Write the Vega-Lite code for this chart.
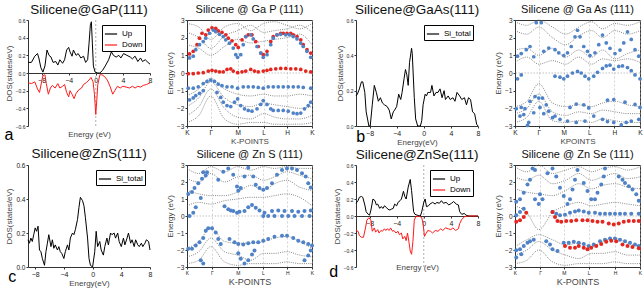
{
"$schema":"https://vega.github.io/schema/vega-lite/v6.json",
"padding":{"left":4,"right":4,"top":2,"bottom":2},
"config":{"font":"Liberation Sans","view":{"stroke":null},
"axis":{"labelFontSize":6,"titleFontSize":8,"tickSize":2,"domainColor":"#333","tickColor":"#333","labelColor":"#222","titleColor":"#444","titleFontWeight":"normal","labelPadding":1,"titlePadding":2,"grid":false,"labelFlush":false,"labelOverlap":false,"tickCount":20},
"title":{"fontSize":12,"fontWeight":"normal","offset":2,"color":"#111"},
"legend":{"title":null,"orient":"top-right","strokeColor":"#000","padding":2,"labelFontSize":8,"symbolSize":150,"symbolStrokeWidth":1.2,"rowPadding":0,"offset":5,"fillColor":"#fff","labelColor":"#000"}},
"columns":4,
"spacing":{"row":0,"column":14},
"resolve":{"scale":{"color":"independent"},"legend":{"color":"independent"}},
"datasets":{
"gapdos":[
{"e":-10,"d":0.12,"s":"Up"},{"e":-9.5,"d":0.12,"s":"Up"},{"e":-9,"d":0.19,"s":"Up"},{"e":-8.6,"d":0.22,"s":"Up"},{"e":-8.4,"d":0.17,"s":"Up"},{"e":-8.1,"d":0.06,"s":"Up"},{"e":-7.8,"d":0.01,"s":"Up"},{"e":-7.5,"d":0.08,"s":"Up"},{"e":-7.2,"d":0.26,"s":"Up"},{"e":-6.9,"d":0.2,"s":"Up"},{"e":-6.6,"d":0.18,"s":"Up"},{"e":-6.3,"d":0.12,"s":"Up"},{"e":-5.9,"d":0.13,"s":"Up"},{"e":-5.6,"d":0.09,"s":"Up"},{"e":-5.3,"d":0.15,"s":"Up"},{"e":-4.9,"d":0.11,"s":"Up"},{"e":-4.6,"d":0.15,"s":"Up"},{"e":-4.3,"d":0.26,"s":"Up"},{"e":-4.0,"d":0.29,"s":"Up"},{"e":-3.8,"d":0.24,"s":"Up"},{"e":-3.5,"d":0.19,"s":"Up"},{"e":-3.3,"d":0.26,"s":"Up"},{"e":-2.9,"d":0.2,"s":"Up"},{"e":-2.6,"d":0.22,"s":"Up"},{"e":-2.2,"d":0.17,"s":"Up"},{"e":-1.8,"d":0.19,"s":"Up"},{"e":-1.5,"d":0.12,"s":"Up"},{"e":-1.2,"d":0.15,"s":"Up"},{"e":-1.0,"d":0.33,"s":"Up"},{"e":-0.8,"d":0.54,"s":"Up"},{"e":-0.65,"d":0.58,"s":"Up"},{"e":-0.5,"d":0.33,"s":"Up"},{"e":-0.35,"d":0.08,"s":"Up"},{"e":-0.1,"d":0.01,"s":"Up"},{"e":0.3,"d":0,"s":"Up"},{"e":0.6,"d":0,"s":"Up"},{"e":1.0,"d":0.03,"s":"Up"},{"e":1.4,"d":0.08,"s":"Up"},{"e":1.9,"d":0.15,"s":"Up"},{"e":2.3,"d":0.24,"s":"Up"},{"e":2.6,"d":0.2,"s":"Up"},{"e":3.0,"d":0.18,"s":"Up"},{"e":3.4,"d":0.2,"s":"Up"},{"e":3.7,"d":0.17,"s":"Up"},{"e":4.1,"d":0.22,"s":"Up"},{"e":4.6,"d":0.2,"s":"Up"},{"e":5.1,"d":0.18,"s":"Up"},{"e":5.4,"d":0.16,"s":"Up"},{"e":5.8,"d":0.19,"s":"Up"},{"e":6.2,"d":0.13,"s":"Up"},{"e":6.6,"d":0.17,"s":"Up"},{"e":6.9,"d":0.13,"s":"Up"},{"e":7.3,"d":0.15,"s":"Up"},{"e":7.7,"d":0.12,"s":"Up"},{"e":8,"d":0.1,"s":"Up"},
{"e":-10,"d":-0.11,"s":"Down"},{"e":-9.5,"d":-0.12,"s":"Down"},{"e":-9,"d":-0.1,"s":"Down"},{"e":-8.6,"d":-0.18,"s":"Down"},{"e":-8.3,"d":-0.22,"s":"Down"},{"e":-8.0,"d":-0.1,"s":"Down"},{"e":-7.8,"d":-0.03,"s":"Down"},{"e":-7.5,"d":-0.02,"s":"Down"},{"e":-7.3,"d":-0.12,"s":"Down"},{"e":-7.0,"d":-0.24,"s":"Down"},{"e":-6.7,"d":-0.17,"s":"Down"},{"e":-6.4,"d":-0.14,"s":"Down"},{"e":-6.0,"d":-0.17,"s":"Down"},{"e":-5.6,"d":-0.12,"s":"Down"},{"e":-5.3,"d":-0.17,"s":"Down"},{"e":-4.9,"d":-0.15,"s":"Down"},{"e":-4.6,"d":-0.13,"s":"Down"},{"e":-4.3,"d":-0.22,"s":"Down"},{"e":-4.0,"d":-0.27,"s":"Down"},{"e":-3.8,"d":-0.2,"s":"Down"},{"e":-3.5,"d":-0.24,"s":"Down"},{"e":-3.2,"d":-0.29,"s":"Down"},{"e":-2.9,"d":-0.23,"s":"Down"},{"e":-2.5,"d":-0.19,"s":"Down"},{"e":-2.1,"d":-0.17,"s":"Down"},{"e":-1.8,"d":-0.13,"s":"Down"},{"e":-1.4,"d":-0.11,"s":"Down"},{"e":-1.0,"d":-0.08,"s":"Down"},{"e":-0.7,"d":-0.05,"s":"Down"},{"e":-0.4,"d":-0.1,"s":"Down"},{"e":-0.2,"d":-0.24,"s":"Down"},{"e":0.0,"d":-0.47,"s":"Down"},{"e":0.15,"d":-0.31,"s":"Down"},{"e":0.3,"d":-0.13,"s":"Down"},{"e":0.6,"d":-0.02,"s":"Down"},{"e":0.9,"d":-0.02,"s":"Down"},{"e":1.3,"d":-0.04,"s":"Down"},{"e":1.7,"d":-0.08,"s":"Down"},{"e":2.1,"d":-0.15,"s":"Down"},{"e":2.5,"d":-0.24,"s":"Down"},{"e":2.8,"d":-0.2,"s":"Down"},{"e":3.2,"d":-0.15,"s":"Down"},{"e":3.6,"d":-0.17,"s":"Down"},{"e":4.0,"d":-0.15,"s":"Down"},{"e":4.5,"d":-0.16,"s":"Down"},{"e":5.0,"d":-0.17,"s":"Down"},{"e":5.4,"d":-0.15,"s":"Down"},{"e":5.8,"d":-0.17,"s":"Down"},{"e":6.2,"d":-0.15,"s":"Down"},{"e":6.6,"d":-0.16,"s":"Down"},{"e":7.0,"d":-0.14,"s":"Down"},{"e":7.5,"d":-0.13,"s":"Down"},{"e":8.0,"d":-0.11,"s":"Down"}],
"gaasdos":[
{"e":-10,"d":0.17,"s":"Si_total"},{"e":-9.8,"d":0.18,"s":"Si_total"},{"e":-9.5,"d":0.21,"s":"Si_total"},{"e":-9.2,"d":0.25,"s":"Si_total"},{"e":-9.0,"d":0.25,"s":"Si_total"},{"e":-8.7,"d":0.19,"s":"Si_total"},{"e":-8.5,"d":0.08,"s":"Si_total"},{"e":-8.1,"d":0.0,"s":"Si_total"},{"e":-7.9,"d":0.0,"s":"Si_total"},{"e":-7.6,"d":0.12,"s":"Si_total"},{"e":-7.3,"d":0.23,"s":"Si_total"},{"e":-7.0,"d":0.19,"s":"Si_total"},{"e":-6.7,"d":0.14,"s":"Si_total"},{"e":-6.4,"d":0.16,"s":"Si_total"},{"e":-6.1,"d":0.13,"s":"Si_total"},{"e":-5.8,"d":0.12,"s":"Si_total"},{"e":-5.4,"d":0.11,"s":"Si_total"},{"e":-5.1,"d":0.09,"s":"Si_total"},{"e":-4.8,"d":0.04,"s":"Si_total"},{"e":-4.5,"d":0.08,"s":"Si_total"},{"e":-4.3,"d":0.09,"s":"Si_total"},{"e":-4.0,"d":0.11,"s":"Si_total"},{"e":-3.7,"d":0.18,"s":"Si_total"},{"e":-3.4,"d":0.15,"s":"Si_total"},{"e":-3.2,"d":0.19,"s":"Si_total"},{"e":-2.9,"d":0.27,"s":"Si_total"},{"e":-2.7,"d":0.32,"s":"Si_total"},{"e":-2.5,"d":0.29,"s":"Si_total"},{"e":-2.3,"d":0.23,"s":"Si_total"},{"e":-2.1,"d":0.36,"s":"Si_total"},{"e":-1.8,"d":0.44,"s":"Si_total"},{"e":-1.7,"d":0.41,"s":"Si_total"},{"e":-1.4,"d":0.16,"s":"Si_total"},{"e":-1.2,"d":0.04,"s":"Si_total"},{"e":-0.9,"d":0.0,"s":"Si_total"},{"e":-0.5,"d":0.0,"s":"Si_total"},{"e":-0.3,"d":0.03,"s":"Si_total"},{"e":-0.1,"d":0.12,"s":"Si_total"},{"e":0.2,"d":0.18,"s":"Si_total"},{"e":0.4,"d":0.17,"s":"Si_total"},{"e":0.6,"d":0.19,"s":"Si_total"},{"e":1.0,"d":0.19,"s":"Si_total"},{"e":1.2,"d":0.23,"s":"Si_total"},{"e":1.5,"d":0.17,"s":"Si_total"},{"e":1.8,"d":0.19,"s":"Si_total"},{"e":2.1,"d":0.19,"s":"Si_total"},{"e":2.4,"d":0.21,"s":"Si_total"},{"e":2.7,"d":0.16,"s":"Si_total"},{"e":3.0,"d":0.2,"s":"Si_total"},{"e":3.2,"d":0.15,"s":"Si_total"},{"e":3.6,"d":0.17,"s":"Si_total"},{"e":3.9,"d":0.15,"s":"Si_total"},{"e":4.3,"d":0.16,"s":"Si_total"},{"e":4.6,"d":0.14,"s":"Si_total"},{"e":4.9,"d":0.19,"s":"Si_total"},{"e":5.3,"d":0.17,"s":"Si_total"},{"e":5.6,"d":0.15,"s":"Si_total"},{"e":6.0,"d":0.16,"s":"Si_total"},{"e":6.3,"d":0.12,"s":"Si_total"},{"e":6.6,"d":0.16,"s":"Si_total"},{"e":6.9,"d":0.15,"s":"Si_total"},{"e":7.2,"d":0.08,"s":"Si_total"},{"e":7.5,"d":0.07,"s":"Si_total"},{"e":7.8,"d":0.01,"s":"Si_total"},{"e":8.0,"d":0.0,"s":"Si_total"}],
"znsdos":[
{"e":-9,"d":0.16,"s":"Si_total"},{"e":-8.8,"d":0.14,"s":"Si_total"},{"e":-8.6,"d":0.17,"s":"Si_total"},{"e":-8.4,"d":0.15,"s":"Si_total"},{"e":-8.2,"d":0.19,"s":"Si_total"},{"e":-8.0,"d":0.23,"s":"Si_total"},{"e":-7.8,"d":0.21,"s":"Si_total"},{"e":-7.6,"d":0.24,"s":"Si_total"},{"e":-7.4,"d":0.1,"s":"Si_total"},{"e":-7.2,"d":0.09,"s":"Si_total"},{"e":-7.0,"d":0.05,"s":"Si_total"},{"e":-6.7,"d":0.01,"s":"Si_total"},{"e":-6.5,"d":0.09,"s":"Si_total"},{"e":-6.3,"d":0.14,"s":"Si_total"},{"e":-6.1,"d":0.19,"s":"Si_total"},{"e":-5.8,"d":0.12,"s":"Si_total"},{"e":-5.6,"d":0.16,"s":"Si_total"},{"e":-5.4,"d":0.11,"s":"Si_total"},{"e":-5.2,"d":0.13,"s":"Si_total"},{"e":-4.9,"d":0.1,"s":"Si_total"},{"e":-4.7,"d":0.12,"s":"Si_total"},{"e":-4.5,"d":0.09,"s":"Si_total"},{"e":-4.3,"d":0.08,"s":"Si_total"},{"e":-4.0,"d":0.05,"s":"Si_total"},{"e":-3.8,"d":0.09,"s":"Si_total"},{"e":-3.5,"d":0.13,"s":"Si_total"},{"e":-3.3,"d":0.1,"s":"Si_total"},{"e":-3.1,"d":0.17,"s":"Si_total"},{"e":-2.8,"d":0.2,"s":"Si_total"},{"e":-2.6,"d":0.19,"s":"Si_total"},{"e":-2.4,"d":0.22,"s":"Si_total"},{"e":-2.1,"d":0.28,"s":"Si_total"},{"e":-1.9,"d":0.35,"s":"Si_total"},{"e":-1.7,"d":0.41,"s":"Si_total"},{"e":-1.4,"d":0.39,"s":"Si_total"},{"e":-1.2,"d":0.36,"s":"Si_total"},{"e":-1.0,"d":0.29,"s":"Si_total"},{"e":-0.7,"d":0.17,"s":"Si_total"},{"e":-0.5,"d":0.05,"s":"Si_total"},{"e":-0.3,"d":0.01,"s":"Si_total"},{"e":0.0,"d":0.0,"s":"Si_total"},{"e":0.3,"d":0.09,"s":"Si_total"},{"e":0.5,"d":0.21,"s":"Si_total"},{"e":0.7,"d":0.12,"s":"Si_total"},{"e":1.0,"d":0.15,"s":"Si_total"},{"e":1.2,"d":0.1,"s":"Si_total"},{"e":1.5,"d":0.07,"s":"Si_total"},{"e":1.7,"d":0.12,"s":"Si_total"},{"e":2.0,"d":0.17,"s":"Si_total"},{"e":2.2,"d":0.13,"s":"Si_total"},{"e":2.5,"d":0.2,"s":"Si_total"},{"e":2.7,"d":0.19,"s":"Si_total"},{"e":3.0,"d":0.2,"s":"Si_total"},{"e":3.2,"d":0.17,"s":"Si_total"},{"e":3.5,"d":0.2,"s":"Si_total"},{"e":3.7,"d":0.15,"s":"Si_total"},{"e":4.0,"d":0.12,"s":"Si_total"},{"e":4.3,"d":0.17,"s":"Si_total"},{"e":4.5,"d":0.13,"s":"Si_total"},{"e":4.8,"d":0.17,"s":"Si_total"},{"e":5.0,"d":0.2,"s":"Si_total"},{"e":5.3,"d":0.14,"s":"Si_total"},{"e":5.5,"d":0.16,"s":"Si_total"},{"e":5.8,"d":0.12,"s":"Si_total"},{"e":6.0,"d":0.16,"s":"Si_total"},{"e":6.3,"d":0.13,"s":"Si_total"},{"e":6.5,"d":0.12,"s":"Si_total"},{"e":6.8,"d":0.14,"s":"Si_total"},{"e":7.0,"d":0.12,"s":"Si_total"},{"e":7.3,"d":0.14,"s":"Si_total"},{"e":7.5,"d":0.16,"s":"Si_total"},{"e":7.8,"d":0.15,"s":"Si_total"},{"e":8.0,"d":0.1,"s":"Si_total"}],
"znsedos":[
{"e":-10,"d":0.15,"s":"Up"},{"e":-9.7,"d":0.18,"s":"Up"},{"e":-9.5,"d":0.22,"s":"Up"},{"e":-9.2,"d":0.23,"s":"Up"},{"e":-9.0,"d":0.22,"s":"Up"},{"e":-8.7,"d":0.13,"s":"Up"},{"e":-8.5,"d":0.05,"s":"Up"},{"e":-8.2,"d":0.02,"s":"Up"},{"e":-8.0,"d":0.01,"s":"Up"},{"e":-7.8,"d":0.07,"s":"Up"},{"e":-7.5,"d":0.2,"s":"Up"},{"e":-7.2,"d":0.18,"s":"Up"},{"e":-7.0,"d":0.13,"s":"Up"},{"e":-6.8,"d":0.14,"s":"Up"},{"e":-6.5,"d":0.09,"s":"Up"},{"e":-6.3,"d":0.11,"s":"Up"},{"e":-6.0,"d":0.09,"s":"Up"},{"e":-5.8,"d":0.12,"s":"Up"},{"e":-5.5,"d":0.1,"s":"Up"},{"e":-5.3,"d":0.08,"s":"Up"},{"e":-5.0,"d":0.07,"s":"Up"},{"e":-4.8,"d":0.08,"s":"Up"},{"e":-4.5,"d":0.09,"s":"Up"},{"e":-4.3,"d":0.14,"s":"Up"},{"e":-4.0,"d":0.12,"s":"Up"},{"e":-3.8,"d":0.16,"s":"Up"},{"e":-3.5,"d":0.18,"s":"Up"},{"e":-3.3,"d":0.2,"s":"Up"},{"e":-3.0,"d":0.29,"s":"Up"},{"e":-2.8,"d":0.23,"s":"Up"},{"e":-2.6,"d":0.2,"s":"Up"},{"e":-2.3,"d":0.34,"s":"Up"},{"e":-2.0,"d":0.43,"s":"Up"},{"e":-1.8,"d":0.3,"s":"Up"},{"e":-1.5,"d":0.05,"s":"Up"},{"e":-1.3,"d":0.02,"s":"Up"},{"e":-1.0,"d":0.01,"s":"Up"},{"e":-0.5,"d":0.0,"s":"Up"},{"e":-0.3,"d":0.05,"s":"Up"},{"e":0.0,"d":0.16,"s":"Up"},{"e":0.2,"d":0.2,"s":"Up"},{"e":0.4,"d":0.11,"s":"Up"},{"e":0.7,"d":0.12,"s":"Up"},{"e":0.9,"d":0.14,"s":"Up"},{"e":1.3,"d":0.16,"s":"Up"},{"e":1.7,"d":0.14,"s":"Up"},{"e":1.9,"d":0.16,"s":"Up"},{"e":2.3,"d":0.15,"s":"Up"},{"e":2.6,"d":0.18,"s":"Up"},{"e":2.9,"d":0.15,"s":"Up"},{"e":3.3,"d":0.16,"s":"Up"},{"e":3.7,"d":0.13,"s":"Up"},{"e":4.1,"d":0.15,"s":"Up"},{"e":4.4,"d":0.17,"s":"Up"},{"e":4.8,"d":0.14,"s":"Up"},{"e":5.1,"d":0.13,"s":"Up"},{"e":5.3,"d":0.05,"s":"Up"},{"e":5.6,"d":0.02,"s":"Up"},{"e":6.0,"d":0.03,"s":"Up"},{"e":6.2,"d":0.01,"s":"Up"},{"e":6.7,"d":0.0,"s":"Up"},{"e":8.0,"d":0.0,"s":"Up"},
{"e":-10,"d":-0.17,"s":"Down"},{"e":-9.7,"d":-0.18,"s":"Down"},{"e":-9.5,"d":-0.23,"s":"Down"},{"e":-9.2,"d":-0.25,"s":"Down"},{"e":-8.9,"d":-0.25,"s":"Down"},{"e":-8.6,"d":-0.14,"s":"Down"},{"e":-8.4,"d":-0.05,"s":"Down"},{"e":-8.1,"d":-0.02,"s":"Down"},{"e":-7.8,"d":-0.05,"s":"Down"},{"e":-7.6,"d":-0.18,"s":"Down"},{"e":-7.3,"d":-0.14,"s":"Down"},{"e":-7.1,"d":-0.19,"s":"Down"},{"e":-6.8,"d":-0.16,"s":"Down"},{"e":-6.6,"d":-0.2,"s":"Down"},{"e":-6.3,"d":-0.17,"s":"Down"},{"e":-6.1,"d":-0.18,"s":"Down"},{"e":-5.8,"d":-0.15,"s":"Down"},{"e":-5.6,"d":-0.17,"s":"Down"},{"e":-5.4,"d":-0.15,"s":"Down"},{"e":-5.1,"d":-0.17,"s":"Down"},{"e":-4.9,"d":-0.14,"s":"Down"},{"e":-4.6,"d":-0.18,"s":"Down"},{"e":-4.4,"d":-0.17,"s":"Down"},{"e":-4.1,"d":-0.2,"s":"Down"},{"e":-3.8,"d":-0.18,"s":"Down"},{"e":-3.6,"d":-0.22,"s":"Down"},{"e":-3.3,"d":-0.2,"s":"Down"},{"e":-3.1,"d":-0.27,"s":"Down"},{"e":-2.8,"d":-0.24,"s":"Down"},{"e":-2.6,"d":-0.29,"s":"Down"},{"e":-2.4,"d":-0.2,"s":"Down"},{"e":-2.2,"d":-0.3,"s":"Down"},{"e":-2.0,"d":-0.41,"s":"Down"},{"e":-1.8,"d":-0.45,"s":"Down"},{"e":-1.6,"d":-0.3,"s":"Down"},{"e":-1.4,"d":-0.05,"s":"Down"},{"e":-1.2,"d":-0.01,"s":"Down"},{"e":-0.7,"d":0.0,"s":"Down"},{"e":-0.3,"d":-0.02,"s":"Down"},{"e":-0.1,"d":-0.09,"s":"Down"},{"e":0.1,"d":-0.24,"s":"Down"},{"e":0.3,"d":-0.21,"s":"Down"},{"e":0.6,"d":-0.17,"s":"Down"},{"e":1.0,"d":-0.18,"s":"Down"},{"e":1.3,"d":-0.2,"s":"Down"},{"e":1.7,"d":-0.17,"s":"Down"},{"e":2.1,"d":-0.18,"s":"Down"},{"e":2.5,"d":-0.15,"s":"Down"},{"e":2.8,"d":-0.17,"s":"Down"},{"e":3.2,"d":-0.14,"s":"Down"},{"e":3.6,"d":-0.15,"s":"Down"},{"e":4.0,"d":-0.16,"s":"Down"},{"e":4.3,"d":-0.14,"s":"Down"},{"e":4.7,"d":-0.17,"s":"Down"},{"e":5.1,"d":-0.15,"s":"Down"},{"e":5.3,"d":-0.09,"s":"Down"},{"e":5.6,"d":-0.04,"s":"Down"},{"e":6.0,"d":-0.01,"s":"Down"},{"e":6.5,"d":0.0,"s":"Down"},{"e":8.0,"d":0.0,"s":"Down"}],
"gapG":[
{"b":1,"k":0,"e":2.8},{"b":1,"k":0.095,"e":2.6},{"b":1,"k":0.19,"e":1.9},{"b":1,"k":0.3,"e":2.6},{"b":1,"k":0.405,"e":2.8},{"b":1,"k":0.51,"e":2.4},{"b":1,"k":0.613,"e":2.8},{"b":1,"k":0.7,"e":2.9},{"b":1,"k":0.8,"e":2.7},{"b":1,"k":0.9,"e":2.5},{"b":1,"k":1,"e":2.8},
{"b":2,"k":0,"e":2.3},{"b":2,"k":0.095,"e":2.0},{"b":2,"k":0.19,"e":1.4},{"b":2,"k":0.3,"e":2.1},{"b":2,"k":0.405,"e":2.4},{"b":2,"k":0.51,"e":2.7},{"b":2,"k":0.613,"e":2.3},{"b":2,"k":0.7,"e":2.4},{"b":2,"k":0.8,"e":2.5},{"b":2,"k":0.9,"e":2.7},{"b":2,"k":1,"e":2.3},
{"b":3,"k":0,"e":1.6},{"b":3,"k":0.095,"e":1.4},{"b":3,"k":0.19,"e":1.0},{"b":3,"k":0.3,"e":1.5},{"b":3,"k":0.405,"e":1.9},{"b":3,"k":0.51,"e":1.7},{"b":3,"k":0.613,"e":1.8},{"b":3,"k":0.7,"e":1.9},{"b":3,"k":0.8,"e":2.0},{"b":3,"k":0.9,"e":2.2},{"b":3,"k":1,"e":1.6},
{"b":4,"k":0,"e":-1.3},{"b":4,"k":0.095,"e":-0.9},{"b":4,"k":0.19,"e":-0.3},{"b":4,"k":0.3,"e":-0.9},{"b":4,"k":0.405,"e":-1.2},{"b":4,"k":0.51,"e":-1.3},{"b":4,"k":0.613,"e":-1.2},{"b":4,"k":0.7,"e":-1.3},{"b":4,"k":0.8,"e":-1.3},{"b":4,"k":0.9,"e":-1.2},{"b":4,"k":1,"e":-1.3},
{"b":5,"k":0,"e":-1.9},{"b":5,"k":0.095,"e":-1.4},{"b":5,"k":0.19,"e":-0.5},{"b":5,"k":0.3,"e":-1.4},{"b":5,"k":0.405,"e":-1.8},{"b":5,"k":0.51,"e":-1.9},{"b":5,"k":0.613,"e":-1.7},{"b":5,"k":0.7,"e":-1.8},{"b":5,"k":0.8,"e":-1.9},{"b":5,"k":0.9,"e":-2.0},{"b":5,"k":1,"e":-1.9},
{"b":6,"k":0,"e":-2.4},{"b":6,"k":0.095,"e":-1.9},{"b":6,"k":0.19,"e":-0.9},{"b":6,"k":0.3,"e":-2.0},{"b":6,"k":0.405,"e":-2.5},{"b":6,"k":0.51,"e":-2.6},{"b":6,"k":0.613,"e":-2.3},{"b":6,"k":0.7,"e":-2.5},{"b":6,"k":0.8,"e":-2.6},{"b":6,"k":0.9,"e":-2.6},{"b":6,"k":1,"e":-2.4},
{"b":7,"k":0,"e":-2.8},{"b":7,"k":0.095,"e":-2.4},{"b":7,"k":0.19,"e":-1.3},{"b":7,"k":0.3,"e":-2.6},{"b":7,"k":0.405,"e":-2.9},{"b":7,"k":0.51,"e":-2.8},{"b":7,"k":0.613,"e":-2.8},{"b":7,"k":0.7,"e":-2.9},{"b":7,"k":0.8,"e":-2.9},{"b":7,"k":0.9,"e":-2.9},{"b":7,"k":1,"e":-2.8}],
"gaasG":[
{"b":1,"k":0,"e":2.9},{"b":1,"k":0.095,"e":2.7},{"b":1,"k":0.19,"e":3.0},{"b":1,"k":0.3,"e":2.6},{"b":1,"k":0.405,"e":2.2},{"b":1,"k":0.51,"e":2.6},{"b":1,"k":0.613,"e":2.9},{"b":1,"k":0.7,"e":2.5},{"b":1,"k":0.8,"e":2.8},{"b":1,"k":0.9,"e":2.7},{"b":1,"k":1,"e":2.9},
{"b":2,"k":0,"e":2.4},{"b":2,"k":0.095,"e":2.2},{"b":2,"k":0.19,"e":2.6},{"b":2,"k":0.3,"e":2.0},{"b":2,"k":0.405,"e":1.6},{"b":2,"k":0.51,"e":2.1},{"b":2,"k":0.613,"e":2.4},{"b":2,"k":0.7,"e":2.0},{"b":2,"k":0.8,"e":2.4},{"b":2,"k":0.9,"e":2.2},{"b":2,"k":1,"e":2.4},
{"b":3,"k":0,"e":1.3},{"b":3,"k":0.095,"e":1.4},{"b":3,"k":0.19,"e":1.0},{"b":3,"k":0.3,"e":1.4},{"b":3,"k":0.405,"e":0.9},{"b":3,"k":0.51,"e":1.3},{"b":3,"k":0.613,"e":0.9},{"b":3,"k":0.7,"e":1.3},{"b":3,"k":0.8,"e":0.8},{"b":3,"k":0.9,"e":1.1},{"b":3,"k":1,"e":1.3},
{"b":4,"k":0,"e":0.6},{"b":4,"k":0.095,"e":0.9},{"b":4,"k":0.19,"e":0.5},{"b":4,"k":0.3,"e":0.7},{"b":4,"k":0.405,"e":0.5},{"b":4,"k":0.51,"e":0.9},{"b":4,"k":0.613,"e":0.5},{"b":4,"k":0.7,"e":0.8},{"b":4,"k":0.8,"e":0.7},{"b":4,"k":0.9,"e":0.8},{"b":4,"k":1,"e":0.6},
{"b":5,"k":0,"e":-1.9},{"b":5,"k":0.095,"e":-1.6},{"b":5,"k":0.19,"e":-0.6},{"b":5,"k":0.3,"e":-1.7},{"b":5,"k":0.405,"e":-1.9},{"b":5,"k":0.51,"e":-1.8},{"b":5,"k":0.613,"e":-1.9},{"b":5,"k":0.7,"e":-1.7},{"b":5,"k":0.8,"e":-1.6},{"b":5,"k":0.9,"e":-1.8},{"b":5,"k":1,"e":-1.9},
{"b":6,"k":0,"e":-2.3},{"b":6,"k":0.095,"e":-2.0},{"b":6,"k":0.19,"e":-1.2},{"b":6,"k":0.3,"e":-2.2},{"b":6,"k":0.405,"e":-2.4},{"b":6,"k":0.51,"e":-2.2},{"b":6,"k":0.613,"e":-2.3},{"b":6,"k":0.7,"e":-2.1},{"b":6,"k":0.8,"e":-2.2},{"b":6,"k":0.9,"e":-2.3},{"b":6,"k":1,"e":-2.3},
{"b":7,"k":0,"e":-2.8},{"b":7,"k":0.095,"e":-2.5},{"b":7,"k":0.19,"e":-1.6},{"b":7,"k":0.3,"e":-2.7},{"b":7,"k":0.405,"e":-2.8},{"b":7,"k":0.51,"e":-2.7},{"b":7,"k":0.613,"e":-2.8},{"b":7,"k":0.7,"e":-2.6},{"b":7,"k":0.8,"e":-2.7},{"b":7,"k":0.9,"e":-2.8},{"b":7,"k":1,"e":-2.8}],
"znsG":[
{"b":1,"k":0,"e":2.8},{"b":1,"k":0.095,"e":2.5},{"b":1,"k":0.19,"e":2.9},{"b":1,"k":0.3,"e":2.6},{"b":1,"k":0.405,"e":2.9},{"b":1,"k":0.51,"e":2.7},{"b":1,"k":0.613,"e":2.9},{"b":1,"k":0.7,"e":2.8},{"b":1,"k":0.8,"e":2.9},{"b":1,"k":0.9,"e":2.8},{"b":1,"k":1,"e":2.8},
{"b":2,"k":0,"e":2.2},{"b":2,"k":0.095,"e":2.0},{"b":2,"k":0.19,"e":2.5},{"b":2,"k":0.3,"e":2.0},{"b":2,"k":0.405,"e":2.3},{"b":2,"k":0.51,"e":2.4},{"b":2,"k":0.613,"e":2.1},{"b":2,"k":0.7,"e":2.3},{"b":2,"k":0.8,"e":2.6},{"b":2,"k":0.9,"e":2.4},{"b":2,"k":1,"e":2.2},
{"b":3,"k":0,"e":1.5},{"b":3,"k":0.095,"e":1.3},{"b":3,"k":0.19,"e":1.2},{"b":3,"k":0.3,"e":1.2},{"b":3,"k":0.405,"e":1.4},{"b":3,"k":0.51,"e":1.8},{"b":3,"k":0.613,"e":1.5},{"b":3,"k":0.7,"e":1.9},{"b":3,"k":0.8,"e":2.1},{"b":3,"k":0.9,"e":1.7},{"b":3,"k":1,"e":1.5},
{"b":4,"k":0,"e":0.6},{"b":4,"k":0.095,"e":0.8},{"b":4,"k":0.19,"e":0.7},{"b":4,"k":0.3,"e":0.9},{"b":4,"k":0.405,"e":1.0},{"b":4,"k":0.51,"e":1.1},{"b":4,"k":0.613,"e":1.1},{"b":4,"k":0.7,"e":1.2},{"b":4,"k":0.8,"e":1.3},{"b":4,"k":0.9,"e":1.1},{"b":4,"k":1,"e":0.6},
{"b":5,"k":0,"e":-1.9},{"b":5,"k":0.095,"e":-1.5},{"b":5,"k":0.19,"e":-0.7},{"b":5,"k":0.3,"e":-1.5},{"b":5,"k":0.405,"e":-1.6},{"b":5,"k":0.51,"e":-1.6},{"b":5,"k":0.613,"e":-1.5},{"b":5,"k":0.7,"e":-1.3},{"b":5,"k":0.8,"e":-1.2},{"b":5,"k":0.9,"e":-1.5},{"b":5,"k":1,"e":-1.9},
{"b":6,"k":0,"e":-2.4},{"b":6,"k":0.095,"e":-2.1},{"b":6,"k":0.19,"e":-1.3},{"b":6,"k":0.3,"e":-2.1},{"b":6,"k":0.405,"e":-2.3},{"b":6,"k":0.51,"e":-2.6},{"b":6,"k":0.613,"e":-2.2},{"b":6,"k":0.7,"e":-2.2},{"b":6,"k":0.8,"e":-2.1},{"b":6,"k":0.9,"e":-2.3},{"b":6,"k":1,"e":-2.4},
{"b":7,"k":0,"e":-2.8},{"b":7,"k":0.095,"e":-2.6},{"b":7,"k":0.19,"e":-1.8},{"b":7,"k":0.3,"e":-2.7},{"b":7,"k":0.405,"e":-2.9},{"b":7,"k":0.51,"e":-2.8},{"b":7,"k":0.613,"e":-2.8},{"b":7,"k":0.7,"e":-2.8},{"b":7,"k":0.8,"e":-2.7},{"b":7,"k":0.9,"e":-2.8},{"b":7,"k":1,"e":-2.8}],
"znseG":[
{"b":1,"k":0,"e":2.9},{"b":1,"k":0.095,"e":2.6},{"b":1,"k":0.19,"e":3.0},{"b":1,"k":0.3,"e":2.5},{"b":1,"k":0.405,"e":2.7},{"b":1,"k":0.51,"e":2.9},{"b":1,"k":0.613,"e":2.6},{"b":1,"k":0.7,"e":2.8},{"b":1,"k":0.8,"e":2.9},{"b":1,"k":0.9,"e":2.7},{"b":1,"k":1,"e":2.9},
{"b":2,"k":0,"e":2.3},{"b":2,"k":0.095,"e":2.1},{"b":2,"k":0.19,"e":2.4},{"b":2,"k":0.3,"e":1.9},{"b":2,"k":0.405,"e":2.1},{"b":2,"k":0.51,"e":2.5},{"b":2,"k":0.613,"e":2.1},{"b":2,"k":0.7,"e":2.3},{"b":2,"k":0.8,"e":2.5},{"b":2,"k":0.9,"e":2.2},{"b":2,"k":1,"e":2.3},
{"b":3,"k":0,"e":1.6},{"b":3,"k":0.095,"e":1.4},{"b":3,"k":0.19,"e":1.3},{"b":3,"k":0.3,"e":1.2},{"b":3,"k":0.405,"e":1.5},{"b":3,"k":0.51,"e":1.9},{"b":3,"k":0.613,"e":1.6},{"b":3,"k":0.7,"e":1.8},{"b":3,"k":0.8,"e":1.9},{"b":3,"k":0.9,"e":1.7},{"b":3,"k":1,"e":1.6},
{"b":4,"k":0,"e":0.6},{"b":4,"k":0.095,"e":0.2},{"b":4,"k":0.19,"e":-0.8},{"b":4,"k":0.3,"e":0.2},{"b":4,"k":0.405,"e":0.6},{"b":4,"k":0.51,"e":0.8},{"b":4,"k":0.613,"e":0.6},{"b":4,"k":0.7,"e":0.7},{"b":4,"k":0.8,"e":0.8},{"b":4,"k":0.9,"e":0.7},{"b":4,"k":1,"e":0.6},
{"b":5,"k":0,"e":-1.8},{"b":5,"k":0.095,"e":-1.4},{"b":5,"k":0.19,"e":-1.1},{"b":5,"k":0.3,"e":-1.4},{"b":5,"k":0.405,"e":-1.7},{"b":5,"k":0.51,"e":-1.6},{"b":5,"k":0.613,"e":-1.8},{"b":5,"k":0.7,"e":-1.5},{"b":5,"k":0.8,"e":-1.3},{"b":5,"k":0.9,"e":-1.6},{"b":5,"k":1,"e":-1.8},
{"b":6,"k":0,"e":-2.3},{"b":6,"k":0.095,"e":-2.0},{"b":6,"k":0.19,"e":-1.5},{"b":6,"k":0.3,"e":-2.0},{"b":6,"k":0.405,"e":-2.3},{"b":6,"k":0.51,"e":-2.5},{"b":6,"k":0.613,"e":-2.2},{"b":6,"k":0.7,"e":-2.2},{"b":6,"k":0.8,"e":-2.1},{"b":6,"k":0.9,"e":-2.3},{"b":6,"k":1,"e":-2.3},
{"b":7,"k":0,"e":-2.8},{"b":7,"k":0.095,"e":-2.6},{"b":7,"k":0.19,"e":-2.0},{"b":7,"k":0.3,"e":-2.7},{"b":7,"k":0.405,"e":-2.9},{"b":7,"k":0.51,"e":-2.8},{"b":7,"k":0.613,"e":-2.8},{"b":7,"k":0.7,"e":-2.8},{"b":7,"k":0.8,"e":-2.7},{"b":7,"k":0.9,"e":-2.8},{"b":7,"k":1,"e":-2.8}],
"gapD":[
{"s":"r","k":0.02,"e":1.08},{"s":"r","k":0.05,"e":1.23},{"s":"r","k":0.08,"e":1.6},{"s":"r","k":0.1,"e":1.97},{"s":"r","k":0.12,"e":2.25},{"s":"r","k":0.15,"e":2.16},{"s":"r","k":0.17,"e":2.43},{"s":"r","k":0.2,"e":2.56},{"s":"r","k":0.23,"e":2.53},{"s":"r","k":0.25,"e":2.38},{"s":"r","k":0.28,"e":2.3},{"s":"r","k":0.31,"e":2.16},{"s":"r","k":0.33,"e":1.97},{"s":"r","k":0.36,"e":1.82},{"s":"r","k":0.39,"e":1.6},{"s":"r","k":0.41,"e":1.45},{"s":"r","k":0.44,"e":1.88},{"s":"r","k":0.47,"e":2.06},{"s":"r","k":0.49,"e":2.16},{"s":"r","k":0.52,"e":2.16},{"s":"r","k":0.55,"e":1.78},{"s":"r","k":0.57,"e":1.5},{"s":"r","k":0.59,"e":1.13},{"s":"r","k":0.61,"e":1.04},{"s":"r","k":0.64,"e":1.23},{"s":"r","k":0.67,"e":1.78},{"s":"r","k":0.69,"e":2.06},{"s":"r","k":0.72,"e":2.16},{"s":"r","k":0.75,"e":2.25},{"s":"r","k":0.77,"e":2.25},{"s":"r","k":0.8,"e":2.25},{"s":"r","k":0.83,"e":2.25},{"s":"r","k":0.85,"e":2.16},{"s":"r","k":0.88,"e":2.06},{"s":"r","k":0.91,"e":1.88},{"s":"r","k":0.93,"e":1.6},{"s":"r","k":0.96,"e":1.32},{"s":"r","k":0.99,"e":1.13},
{"s":"b","k":0.02,"e":0.85},{"s":"b","k":0.05,"e":0.95},{"s":"b","k":0.07,"e":1.32},{"s":"b","k":0.1,"e":1.6},{"s":"b","k":0.13,"e":1.78},{"s":"b","k":0.15,"e":1.97},{"s":"b","k":0.18,"e":2.25},{"s":"b","k":0.21,"e":2.43},{"s":"b","k":0.23,"e":2.34},{"s":"b","k":0.26,"e":2.19},{"s":"b","k":0.29,"e":2.06},{"s":"b","k":0.31,"e":1.88},{"s":"b","k":0.34,"e":1.69},{"s":"b","k":0.37,"e":1.41},{"s":"b","k":0.39,"e":1.04},{"s":"b","k":0.405,"e":0.89},{"s":"b","k":0.43,"e":1.04},{"s":"b","k":0.45,"e":1.6},{"s":"b","k":0.47,"e":2.06},{"s":"b","k":0.51,"e":2.16},{"s":"b","k":0.53,"e":1.93},{"s":"b","k":0.56,"e":1.5},{"s":"b","k":0.59,"e":1.13},{"s":"b","k":0.61,"e":0.89},{"s":"b","k":0.64,"e":1.04},{"s":"b","k":0.67,"e":1.6},{"s":"b","k":0.69,"e":1.97},{"s":"b","k":0.72,"e":2.16},{"s":"b","k":0.75,"e":2.19},{"s":"b","k":0.79,"e":2.16},{"s":"b","k":0.82,"e":2.16},{"s":"b","k":0.85,"e":2.06},{"s":"b","k":0.88,"e":1.93},{"s":"b","k":0.91,"e":1.69},{"s":"b","k":0.93,"e":1.5},{"s":"b","k":0.96,"e":1.23},{"s":"b","k":0.99,"e":0.89},
{"s":"r","k":0.01,"e":-0.04},{"s":"r","k":0.05,"e":-0.04},{"s":"r","k":0.09,"e":0},{"s":"r","k":0.13,"e":0.02},{"s":"r","k":0.17,"e":0.11},{"s":"r","k":0.2,"e":0.15},{"s":"r","k":0.23,"e":0.11},{"s":"r","k":0.26,"e":0.07},{"s":"r","k":0.29,"e":0.07},{"s":"r","k":0.32,"e":0.2},{"s":"r","k":0.35,"e":0.24},{"s":"r","k":0.37,"e":0.11},{"s":"r","k":0.405,"e":0.02},{"s":"r","k":0.44,"e":0.07},{"s":"r","k":0.47,"e":0.11},{"s":"r","k":0.51,"e":0.2},{"s":"r","k":0.54,"e":0.11},{"s":"r","k":0.57,"e":0.07},{"s":"r","k":0.61,"e":0.11},{"s":"r","k":0.64,"e":0.15},{"s":"r","k":0.67,"e":0.2},{"s":"r","k":0.71,"e":0.24},{"s":"r","k":0.75,"e":0.26},{"s":"r","k":0.79,"e":0.26},{"s":"r","k":0.83,"e":0.24},{"s":"r","k":0.87,"e":0.24},{"s":"r","k":0.91,"e":0.2},{"s":"r","k":0.95,"e":0.11},{"s":"r","k":0.99,"e":0.06},
{"s":"b","k":0.01,"e":-0.86},{"s":"b","k":0.05,"e":-0.86},{"s":"b","k":0.09,"e":-0.78},{"s":"b","k":0.13,"e":-0.6},{"s":"b","k":0.16,"e":-0.48},{"s":"b","k":0.19,"e":-0.41},{"s":"b","k":0.22,"e":-0.48},{"s":"b","k":0.25,"e":-0.63},{"s":"b","k":0.28,"e":-0.72},{"s":"b","k":0.32,"e":-0.78},{"s":"b","k":0.36,"e":-0.78},{"s":"b","k":0.405,"e":-0.86},{"s":"b","k":0.45,"e":-0.78},{"s":"b","k":0.49,"e":-0.78},{"s":"b","k":0.53,"e":-0.78},{"s":"b","k":0.57,"e":-0.82},{"s":"b","k":0.61,"e":-0.86},{"s":"b","k":0.65,"e":-0.78},{"s":"b","k":0.69,"e":-0.78},{"s":"b","k":0.73,"e":-0.78},{"s":"b","k":0.77,"e":-0.78},{"s":"b","k":0.81,"e":-0.78},{"s":"b","k":0.85,"e":-0.78},{"s":"b","k":0.89,"e":-0.78},{"s":"b","k":0.93,"e":-0.82},{"s":"b","k":0.99,"e":-0.86},
{"s":"b","k":0.02,"e":-1.52},{"s":"b","k":0.05,"e":-1.41},{"s":"b","k":0.07,"e":-1.28},{"s":"b","k":0.1,"e":-1.15},{"s":"b","k":0.13,"e":-1.0},{"s":"b","k":0.24,"e":-1.1},{"s":"b","k":0.27,"e":-1.38},{"s":"b","k":0.29,"e":-1.65},{"s":"b","k":0.32,"e":-1.84},{"s":"b","k":0.35,"e":-1.9},{"s":"b","k":0.38,"e":-1.65},{"s":"b","k":0.405,"e":-1.47},{"s":"b","k":0.43,"e":-1.84},{"s":"b","k":0.46,"e":-2.03},{"s":"b","k":0.49,"e":-2.12},{"s":"b","k":0.52,"e":-2.16},{"s":"b","k":0.56,"e":-2.03},{"s":"b","k":0.59,"e":-1.78},{"s":"b","k":0.61,"e":-1.56},{"s":"b","k":0.64,"e":-1.78},{"s":"b","k":0.67,"e":-2.03},{"s":"b","k":0.69,"e":-2.12},{"s":"b","k":0.73,"e":-2.12},{"s":"b","k":0.77,"e":-2.12},{"s":"b","k":0.81,"e":-2.16},{"s":"b","k":0.85,"e":-2.27},{"s":"b","k":0.88,"e":-2.3},{"s":"b","k":0.91,"e":-2.27},{"s":"b","k":0.94,"e":-2.03},{"s":"b","k":0.97,"e":-1.84},{"s":"b","k":0.99,"e":-1.65}],
"gaasD":[
{"s":"b","k":0.02,"e":-0.33},{"s":"b","k":0.05,"e":-0.11},{"s":"b","k":0.32,"e":-0.18},{"s":"b","k":0.36,"e":-0.24},{"s":"b","k":0.39,"e":-0.33},{"s":"b","k":0.42,"e":-0.18},{"s":"b","k":0.46,"e":0},{"s":"b","k":0.5,"e":0.09},{"s":"b","k":0.53,"e":0},{"s":"b","k":0.56,"e":-0.18},{"s":"b","k":0.59,"e":-0.33},{"s":"b","k":0.63,"e":-0.18},{"s":"b","k":0.66,"e":0.04},{"s":"b","k":0.7,"e":0.26},{"s":"b","k":0.73,"e":0.4},{"s":"b","k":0.76,"e":0.44},{"s":"b","k":0.79,"e":0.22},{"s":"b","k":0.83,"e":0.37},{"s":"b","k":0.86,"e":0.4},{"s":"b","k":0.9,"e":0.31},{"s":"b","k":0.93,"e":0.13},{"s":"b","k":0.96,"e":-0.11},{"s":"b","k":1,"e":-0.33},
{"s":"b","k":0.02,"e":0.95},{"s":"b","k":0.05,"e":1.1},{"s":"b","k":0.09,"e":1.32},{"s":"b","k":0.12,"e":1.5},{"s":"b","k":0.15,"e":0.92},{"s":"b","k":0.17,"e":2.85},{"s":"b","k":0.21,"e":2.85},{"s":"b","k":0.23,"e":1.23},{"s":"b","k":0.27,"e":1.41},{"s":"b","k":0.32,"e":1.32},{"s":"b","k":0.35,"e":1.14},{"s":"b","k":0.39,"e":0.99},{"s":"b","k":0.42,"e":1.14},{"s":"b","k":0.45,"e":1.5},{"s":"b","k":0.48,"e":2.05},{"s":"b","k":0.5,"e":2.42},{"s":"b","k":0.52,"e":2.05},{"s":"b","k":0.55,"e":1.5},{"s":"b","k":0.58,"e":1.23},{"s":"b","k":0.6,"e":0.99},{"s":"b","k":0.64,"e":1.14},{"s":"b","k":0.67,"e":1.6},{"s":"b","k":0.7,"e":2.15},{"s":"b","k":0.73,"e":1.7},{"s":"b","k":0.76,"e":1.4},{"s":"b","k":0.8,"e":1.1},{"s":"b","k":0.84,"e":1.3},{"s":"b","k":0.87,"e":1.7},{"s":"b","k":0.9,"e":2.33},{"s":"b","k":0.93,"e":1.9},{"s":"b","k":0.96,"e":1.32},{"s":"b","k":0.99,"e":0.95},
{"s":"b","k":0.08,"e":-2.02},{"s":"b","k":0.12,"e":-1.6},{"s":"b","k":0.16,"e":-1.33},{"s":"b","k":0.19,"e":-1.42},{"s":"b","k":0.22,"e":-1.42},{"s":"b","k":0.25,"e":-1.8},{"s":"b","k":0.27,"e":-2.16},{"s":"b","k":0.3,"e":-2.53},{"s":"b","k":0.04,"e":-2.44},{"s":"b","k":0.07,"e":-2.35},{"s":"b","k":0.11,"e":-2.8},{"s":"b","k":0.15,"e":-2.25},{"s":"b","k":0.01,"e":-2.02},{"s":"b","k":0.05,"e":-1.95},{"s":"b","k":0.2,"e":-1.95},{"s":"b","k":0.23,"e":-2.3},{"s":"b","k":0.1,"e":-2.97},
{"s":"b","k":0.32,"e":-2.44},{"s":"b","k":0.36,"e":-2.62},{"s":"b","k":0.42,"e":-2.72},{"s":"b","k":0.49,"e":-2.8},{"s":"b","k":0.56,"e":-2.72},{"s":"b","k":0.63,"e":-2.44},{"s":"b","k":0.7,"e":-2.62},{"s":"b","k":0.74,"e":-2.75},{"s":"b","k":0.79,"e":-2.8},{"s":"b","k":0.85,"e":-2.94},{"s":"b","k":0.89,"e":-2.8},{"s":"b","k":0.93,"e":-2.72},{"s":"b","k":0.99,"e":-2.62},
{"s":"b","k":0.44,"e":-1.95},{"s":"b","k":0.49,"e":-1.76},{"s":"b","k":0.55,"e":-1.8},{"s":"b","k":0.59,"e":-1.98},{"s":"b","k":0.74,"e":-1.54},{"s":"b","k":0.79,"e":-1.5},{"s":"b","k":0.88,"e":-1.65},{"s":"b","k":0.96,"e":-1.78},{"s":"b","k":1,"e":-1.95}],
"znsD":[
{"s":"b","k":0.01,"e":1.3},{"s":"b","k":0.04,"e":1.41},{"s":"b","k":0.06,"e":1.64},{"s":"b","k":0.09,"e":1.93},{"s":"b","k":0.12,"e":2.19},{"s":"b","k":0.15,"e":2.38},{"s":"b","k":0.13,"e":2.57},{"s":"b","k":0.16,"e":2.57},{"s":"b","k":0.25,"e":2.13},{"s":"b","k":0.29,"e":2.61},{"s":"b","k":0.33,"e":2.8},{"s":"b","k":0.37,"e":2.42},{"s":"b","k":0.4,"e":1.74},{"s":"b","k":0.41,"e":1.49},{"s":"b","k":0.43,"e":1.64},{"s":"b","k":0.46,"e":2.32},{"s":"b","k":0.49,"e":2.84},{"s":"b","k":0.53,"e":2.32},{"s":"b","k":0.55,"e":1.84},{"s":"b","k":0.58,"e":1.64},{"s":"b","k":0.61,"e":1.55},{"s":"b","k":0.64,"e":1.64},{"s":"b","k":0.68,"e":1.93},{"s":"b","k":0.72,"e":2.42},{"s":"b","k":0.76,"e":2.71},{"s":"b","k":0.8,"e":2.8},{"s":"b","k":0.84,"e":2.8},{"s":"b","k":0.88,"e":2.71},{"s":"b","k":0.92,"e":2.51},{"s":"b","k":0.95,"e":2.32},{"s":"b","k":0.97,"e":1.93},{"s":"b","k":0.99,"e":1.68},
{"s":"b","k":0.02,"e":0},{"s":"b","k":0.05,"e":0.19},{"s":"b","k":0.07,"e":0.52},{"s":"b","k":0.11,"e":1.06},{"s":"b","k":0.3,"e":0.58},{"s":"b","k":0.33,"e":0.39},{"s":"b","k":0.35,"e":0.33},{"s":"b","k":0.37,"e":0.29},{"s":"b","k":0.4,"e":0.19},{"s":"b","k":0.42,"e":0.25},{"s":"b","k":0.46,"e":0.29},{"s":"b","k":0.49,"e":0.52},{"s":"b","k":0.52,"e":0.64},{"s":"b","k":0.55,"e":0.48},{"s":"b","k":0.58,"e":0.33},{"s":"b","k":0.61,"e":0},{"s":"b","k":0.65,"e":0},{"s":"b","k":0.7,"e":0},{"s":"b","k":0.76,"e":0},{"s":"b","k":0.81,"e":0},{"s":"b","k":0.86,"e":0},{"s":"b","k":0.92,"e":0},{"s":"b","k":0.98,"e":0},
{"s":"b","k":0.62,"e":0.19},{"s":"b","k":0.68,"e":0.29},{"s":"b","k":0.73,"e":0.33},{"s":"b","k":0.78,"e":0.29},{"s":"b","k":0.84,"e":0.29},{"s":"b","k":0.89,"e":0.25},{"s":"b","k":0.94,"e":0.29},{"s":"b","k":0.99,"e":0.33},
{"s":"b","k":0.15,"e":-0.87},{"s":"b","k":0.17,"e":-0.72},{"s":"b","k":0.2,"e":-0.72},{"s":"b","k":0.23,"e":-0.97},{"s":"b","k":0.25,"e":-1.35},{"s":"b","k":0.27,"e":-1.64},{"s":"b","k":0.34,"e":-1.35},{"s":"b","k":0.38,"e":-1.55},{"s":"b","k":0.41,"e":-1.64},{"s":"b","k":0.45,"e":-1.68},{"s":"b","k":0.49,"e":-1.6},{"s":"b","k":0.53,"e":-1.55},{"s":"b","k":0.57,"e":-1.55},{"s":"b","k":0.61,"e":-1.45},{"s":"b","k":0.65,"e":-1.35},{"s":"b","k":0.7,"e":-1.22},{"s":"b","k":0.76,"e":-1.16},{"s":"b","k":0.8,"e":-1.16},{"s":"b","k":0.85,"e":-1.3},{"s":"b","k":0.89,"e":-1.45},{"s":"b","k":0.93,"e":-1.55},{"s":"b","k":0.97,"e":-1.64},{"s":"b","k":1,"e":-1.74},
{"s":"b","k":0.01,"e":-1.93},{"s":"b","k":0.04,"e":-1.93},{"s":"b","k":0.07,"e":-1.74},{"s":"b","k":0.1,"e":-1.55},{"s":"b","k":0.13,"e":-1.3},
{"s":"b","k":0.41,"e":-2.19},{"s":"b","k":0.43,"e":-2.51},{"s":"b","k":0.46,"e":-2.8},{"s":"b","k":0.49,"e":-2.61},{"s":"b","k":0.52,"e":-2.26},{"s":"b","k":0.54,"e":-2.03},{"s":"b","k":0.94,"e":-2.61},{"s":"b","k":0.97,"e":-2.32},{"s":"b","k":0.99,"e":-2.03},{"s":"b","k":0.11,"e":-2.61},{"s":"b","k":0.13,"e":-2.8}],
"znseD":[
{"s":"b","k":0.01,"e":0.04},{"s":"b","k":0.04,"e":0.23},{"s":"b","k":0.07,"e":0.42},{"s":"b","k":0.3,"e":0.23},{"s":"b","k":0.33,"e":0.13},{"s":"b","k":0.36,"e":0.04},{"s":"b","k":0.4,"e":0.08},{"s":"b","k":0.44,"e":0.19},{"s":"b","k":0.48,"e":0.27},{"s":"b","k":0.51,"e":0.32},{"s":"b","k":0.55,"e":0.27},{"s":"b","k":0.59,"e":0.19},{"s":"b","k":0.64,"e":0.19},{"s":"b","k":0.68,"e":0.13},{"s":"b","k":0.72,"e":0.13},{"s":"b","k":0.76,"e":0.13},{"s":"b","k":0.8,"e":0.13},{"s":"b","k":0.84,"e":0.13},{"s":"b","k":0.88,"e":0.13},{"s":"b","k":0.93,"e":0.13},{"s":"b","k":0.99,"e":0.13},
{"s":"b","k":0.01,"e":0.84},{"s":"b","k":0.04,"e":0.99},{"s":"b","k":0.07,"e":1.37},{"s":"b","k":0.1,"e":1.85},{"s":"b","k":0.12,"e":2.13},{"s":"b","k":0.14,"e":2.8},{"s":"b","k":0.16,"e":2.7},{"s":"b","k":0.16,"e":0.99},{"s":"b","k":0.19,"e":0.7},{"s":"b","k":0.2,"e":1.28},{"s":"b","k":0.22,"e":0.99},{"s":"b","k":0.26,"e":2.51},{"s":"b","k":0.3,"e":2.8},{"s":"b","k":0.33,"e":2.32},{"s":"b","k":0.36,"e":1.66},{"s":"b","k":0.39,"e":1.18},{"s":"b","k":0.42,"e":0.7},{"s":"b","k":0.44,"e":0.99},{"s":"b","k":0.46,"e":1.56},{"s":"b","k":0.48,"e":2.13},{"s":"b","k":0.5,"e":2.7},{"s":"b","k":0.55,"e":1.94},{"s":"b","k":0.58,"e":1.47},{"s":"b","k":0.61,"e":0.99},{"s":"b","k":0.64,"e":0.99},{"s":"b","k":0.66,"e":1.37},{"s":"b","k":0.69,"e":1.85},{"s":"b","k":0.71,"e":2.32},{"s":"b","k":0.72,"e":2.8},{"s":"b","k":0.83,"e":2.32},{"s":"b","k":0.86,"e":2.13},{"s":"b","k":0.88,"e":1.94},{"s":"b","k":0.91,"e":1.75},{"s":"b","k":0.94,"e":1.56},{"s":"b","k":0.97,"e":1.28},{"s":"b","k":0.99,"e":0.9},
{"s":"b","k":0.01,"e":-2.02},{"s":"b","k":0.04,"e":-1.96},{"s":"b","k":0.07,"e":-1.77},{"s":"b","k":0.1,"e":-1.58},{"s":"b","k":0.12,"e":-1.49},{"s":"b","k":0.15,"e":-1.39},{"s":"b","k":0.01,"e":-2.44},{"s":"b","k":0.05,"e":-2.25},{"s":"b","k":0.25,"e":-1.49},{"s":"b","k":0.28,"e":-1.68},{"s":"b","k":0.3,"e":-1.96},{"s":"b","k":0.34,"e":-2.06},{"s":"b","k":0.39,"e":-1.58},{"s":"b","k":0.43,"e":-1.58},{"s":"b","k":0.47,"e":-1.52},{"s":"b","k":0.51,"e":-1.58},{"s":"b","k":0.55,"e":-1.64},{"s":"b","k":0.59,"e":-1.77},{"s":"b","k":0.63,"e":-1.68},{"s":"b","k":0.68,"e":-1.49},{"s":"b","k":0.72,"e":-1.39},{"s":"b","k":0.76,"e":-1.33},{"s":"b","k":0.8,"e":-1.33},{"s":"b","k":0.84,"e":-1.39},{"s":"b","k":0.88,"e":-1.49},{"s":"b","k":0.92,"e":-1.58},{"s":"b","k":0.96,"e":-1.68},{"s":"b","k":0.99,"e":-1.77},
{"s":"r","k":0.01,"e":-0.34},{"s":"r","k":0.04,"e":-0.25},{"s":"r","k":0.07,"e":-0.06},{"s":"r","k":0.09,"e":0.19},{"s":"r","k":0.3,"e":0.23},{"s":"r","k":0.32,"e":-0.06},{"s":"r","k":0.34,"e":-0.3},{"s":"r","k":0.37,"e":-0.34},{"s":"r","k":0.41,"e":-0.3},{"s":"r","k":0.45,"e":-0.3},{"s":"r","k":0.49,"e":-0.25},{"s":"r","k":0.54,"e":-0.25},{"s":"r","k":0.58,"e":-0.25},{"s":"r","k":0.62,"e":-0.3},{"s":"r","k":0.66,"e":-0.34},{"s":"r","k":0.7,"e":-0.34},{"s":"r","k":0.75,"e":-0.44},{"s":"r","k":0.79,"e":-0.5},{"s":"r","k":0.83,"e":-0.44},{"s":"r","k":0.87,"e":-0.34},{"s":"r","k":0.91,"e":-0.3},{"s":"r","k":0.95,"e":-0.3},{"s":"r","k":0.99,"e":-0.3},
{"s":"r","k":0.4,"e":-1.77},{"s":"r","k":0.44,"e":-1.87},{"s":"r","k":0.48,"e":-1.87},{"s":"r","k":0.51,"e":-1.77},{"s":"r","k":0.55,"e":-1.87},{"s":"r","k":0.58,"e":-1.96},{"s":"r","k":0.61,"e":-1.87},{"s":"r","k":0.65,"e":-1.77},{"s":"r","k":0.69,"e":-1.64},{"s":"r","k":0.73,"e":-1.52},{"s":"r","k":0.77,"e":-1.45},{"s":"r","k":0.81,"e":-1.49},{"s":"r","k":0.86,"e":-1.68},{"s":"r","k":0.9,"e":-1.77},{"s":"r","k":0.94,"e":-1.83},{"s":"r","k":0.99,"e":-1.9}]
},
"concat":[
{"title":{"text":"Silicene@GaP(111)","fontSize":13.5},"width":122,"height":106,
"layer":[
{"data":{"values":[{}]},"mark":{"type":"rule","color":"#777","strokeDash":[2,2],"strokeWidth":0.6},"encoding":{"x":{"datum":0}}},
{"data":{"name":"gapdos"},"mark":{"type":"line","strokeWidth":1},"encoding":{
"x":{"field":"e","type":"quantitative","scale":{"domain":[-10,8],"nice":false},"axis":{"values":[-8,-4,0,4,8],"tickCount":20,"title":"Energy (eV)","labelFontSize":7,"labelOverlap":false,"offset":-53,"titleY":57,"titleBaseline":"top","titleFontSize":8}},
"y":{"field":"d","type":"quantitative","scale":{"domain":[-0.6,0.6],"nice":false},"axis":{"values":[-0.6,-0.4,-0.2,0,0.2,0.4,0.6],"tickCount":20,"format":".1f","labelFontSize":5,"labelOverlap":false,"title":"DOS(states/eV)"}},
"color":{"field":"s","type":"nominal","scale":{"domain":["Up","Down"],"range":["#000000","#ff1a1a"]},"legend":{}}}},
{"data":{"values":[{}]},"mark":{"type":"text","fontSize":16,"align":"center","baseline":"middle"},"encoding":{"x":{"datum":-12.8},"y":{"datum":-0.7},"text":{"value":"a"}}}
]},
{"title":{"text":"Silicene @ Ga P (111)","fontSize":11},"width":125,"height":106,"view":{"stroke":"#333"},
"layer":[
{"data":{"values":[{}]},"mark":{"type":"rule","color":"#999","strokeDash":[1.5,1.5],"strokeWidth":0.6},"encoding":{"y":{"datum":0}}},
{"data":{"name":"gapG"},"mark":{"type":"line","color":"#555","strokeDash":[1,1.2],"strokeWidth":0.7,"interpolate":"monotone"},"encoding":{
"x":{"field":"k","type":"quantitative","scale":{"domain":[0,1],"nice":false},"axis":{"values":[0,0.19,0.405,0.613,0.8,1],"tickCount":20,"labelExpr":"datum.value<0.05||datum.value>0.95?'K':datum.value<0.3?'Γ':datum.value<0.5?'M':datum.value<0.7?'L':'H'","labelOverlap":false,"title":"K-POINTS","grid":true,"gridDash":[2,2],"gridColor":"#aaa","gridWidth":0.5,"labelFontSize":6.5}},
"y":{"field":"e","type":"quantitative","scale":{"domain":[-3,3],"nice":false},"axis":{"values":[-3,-2,-1,0,1,2,3],"tickCount":20,"format":"d","labelOverlap":false,"labelFontSize":6.5,"title":"Energy (eV)"}},
"detail":{"field":"b","type":"nominal"}}},
{"data":{"name":"gapD"},"mark":{"type":"circle","size":14,"opacity":1},"encoding":{"x":{"field":"k","type":"quantitative"},"y":{"field":"e","type":"quantitative"},"fill":{"field":"s","type":"nominal","scale":{"domain":["b","r"],"range":["#4f82c6","#e3261f"]},"legend":null}}}
]},
{"title":{"text":"Silicene@GaAs(111)","fontSize":13.5},"width":122,"height":106,
"layer":[
{"data":{"name":"gaasdos"},"mark":{"type":"line","strokeWidth":1},"encoding":{
"x":{"field":"e","type":"quantitative","scale":{"domain":[-10,8],"nice":false},"axis":{"values":[-8,-4,0,4,8],"tickCount":20,"title":"Energy(eV)","labelFontSize":7,"labelOverlap":false}},
"y":{"field":"d","type":"quantitative","scale":{"domain":[0,0.6],"nice":false},"axis":{"values":[0,0.2,0.4,0.6],"tickCount":20,"format":".1f","labelFontSize":5,"labelOverlap":false,"title":"DOS(states/eV)"}},
"color":{"field":"s","type":"nominal","scale":{"domain":["Si_total"],"range":["#000000"]},"legend":{}}}},
{"data":{"values":[{}]},"mark":{"type":"text","fontSize":16,"align":"center","baseline":"middle"},"encoding":{"x":{"datum":-9.3},"y":{"datum":-0.065},"text":{"value":"b"}}}
]},
{"title":{"text":"Silicene @ Ga As (111)","fontSize":11},"width":125,"height":106,"view":{"stroke":"#333"},
"layer":[
{"data":{"values":[{}]},"mark":{"type":"rule","color":"#999","strokeDash":[1.5,1.5],"strokeWidth":0.6},"encoding":{"y":{"datum":0}}},
{"data":{"name":"gaasG"},"mark":{"type":"line","color":"#555","strokeDash":[1,1.2],"strokeWidth":0.7,"interpolate":"monotone"},"encoding":{
"x":{"field":"k","type":"quantitative","scale":{"domain":[0,1],"nice":false},"axis":{"values":[0,0.19,0.39,0.595,0.795,1],"tickCount":20,"labelExpr":"datum.value<0.05||datum.value>0.95?'K':datum.value<0.3?'Γ':datum.value<0.5?'M':datum.value<0.7?'L':'H'","labelOverlap":false,"title":"KPOINTS","grid":true,"gridDash":[2,2],"gridColor":"#aaa","gridWidth":0.5,"labelFontSize":6.5}},
"y":{"field":"e","type":"quantitative","scale":{"domain":[-3,3],"nice":false},"axis":{"values":[-3,-2,-1,0,1,2,3],"tickCount":20,"format":"d","labelOverlap":false,"labelFontSize":6.5,"title":"Energy (eV)"}},
"detail":{"field":"b","type":"nominal"}}},
{"data":{"name":"gaasD"},"mark":{"type":"circle","size":14,"opacity":1},"encoding":{"x":{"field":"k","type":"quantitative"},"y":{"field":"e","type":"quantitative"},"fill":{"field":"s","type":"nominal","scale":{"domain":["b","r"],"range":["#4f82c6","#e3261f"]},"legend":null}}}
]},
{"title":{"text":"Silicene@ZnS(111)","fontSize":13.5},"width":122,"height":102,
"layer":[
{"data":{"name":"znsdos"},"mark":{"type":"line","strokeWidth":1},"encoding":{
"x":{"field":"e","type":"quantitative","scale":{"domain":[-9,8],"nice":false},"axis":{"values":[-8,-4,0,4,8],"tickCount":20,"title":"Energy(eV)","labelFontSize":7,"labelOverlap":false}},
"y":{"field":"d","type":"quantitative","scale":{"domain":[0,0.6],"nice":false},"axis":{"values":[0,0.2,0.4,0.6],"tickCount":20,"format":".1f","labelFontSize":6.5,"labelOverlap":false,"title":"DOS(states/eV)"}},
"color":{"field":"s","type":"nominal","scale":{"domain":["Si_total"],"range":["#000000"]},"legend":{}}}},
{"data":{"values":[{}]},"mark":{"type":"text","fontSize":16,"align":"center","baseline":"middle"},"encoding":{"x":{"datum":-11.2},"y":{"datum":-0.06},"text":{"value":"c"}}}
]},
{"title":{"text":"Silicene @ Zn S (111)","fontSize":11},"width":125,"height":102,"view":{"stroke":"#333"},
"layer":[
{"data":{"values":[{}]},"mark":{"type":"rule","color":"#999","strokeDash":[1.5,1.5],"strokeWidth":0.6},"encoding":{"y":{"datum":0}}},
{"data":{"name":"znsG"},"mark":{"type":"line","color":"#555","strokeDash":[1,1.2],"strokeWidth":0.7,"interpolate":"monotone"},"encoding":{
"x":{"field":"k","type":"quantitative","scale":{"domain":[0,1],"nice":false},"axis":{"values":[0,0.198,0.406,0.607,0.802,1],"tickCount":20,"labelExpr":"datum.value<0.05||datum.value>0.95?'K':datum.value<0.3?'Γ':datum.value<0.5?'M':datum.value<0.7?'L':'H'","labelOverlap":false,"title":"K-POINTS","titleFontSize":9,"grid":true,"gridDash":[2,2],"gridColor":"#aaa","gridWidth":0.5,"labelFontSize":5}},
"y":{"field":"e","type":"quantitative","scale":{"domain":[-3,3],"nice":false},"axis":{"values":[-3,-2,-1,0,1,2,3],"tickCount":20,"format":"d","labelOverlap":false,"labelFontSize":6.5,"title":"Energy (eV)"}},
"detail":{"field":"b","type":"nominal"}}},
{"data":{"name":"znsD"},"mark":{"type":"circle","size":16,"opacity":1},"encoding":{"x":{"field":"k","type":"quantitative"},"y":{"field":"e","type":"quantitative"},"fill":{"field":"s","type":"nominal","scale":{"domain":["b","r"],"range":["#4f82c6","#e3261f"]},"legend":null}}}
]},
{"title":{"text":"Silicene@ZnSe(111)","fontSize":13.5},"width":122,"height":102,
"layer":[
{"data":{"values":[{}]},"mark":{"type":"rule","color":"#777","strokeDash":[2,2],"strokeWidth":0.6},"encoding":{"x":{"datum":0}}},
{"data":{"name":"znsedos"},"mark":{"type":"line","strokeWidth":1},"encoding":{
"x":{"field":"e","type":"quantitative","scale":{"domain":[-10,8],"nice":false},"axis":{"values":[-8,-4,0,4,8],"tickCount":20,"title":"Energy (eV)","labelFontSize":7,"labelOverlap":false,"offset":-51,"titleY":51,"titleBaseline":"middle","titleFontSize":8}},
"y":{"field":"d","type":"quantitative","scale":{"domain":[-0.6,0.6],"nice":false},"axis":{"values":[-0.6,-0.4,-0.2,0,0.2,0.4,0.6],"tickCount":20,"format":".1f","labelFontSize":5,"labelOverlap":false,"title":"DOS(states/eV)"}},
"color":{"field":"s","type":"nominal","scale":{"domain":["Up","Down"],"range":["#000000","#ff1a1a"]},"legend":{}}}},
{"data":{"values":[{}]},"mark":{"type":"text","fontSize":16,"align":"center","baseline":"middle"},"encoding":{"x":{"datum":-13.3},"y":{"datum":-0.66},"text":{"value":"d"}}}
]},
{"title":{"text":"Silicene @ Zn Se (111)","fontSize":11},"width":125,"height":102,"view":{"stroke":"#333"},
"layer":[
{"data":{"values":[{}]},"mark":{"type":"rule","color":"#999","strokeDash":[1.5,1.5],"strokeWidth":0.6},"encoding":{"y":{"datum":0}}},
{"data":{"name":"znseG"},"mark":{"type":"line","color":"#555","strokeDash":[1,1.2],"strokeWidth":0.7,"interpolate":"monotone"},"encoding":{
"x":{"field":"k","type":"quantitative","scale":{"domain":[0,1],"nice":false},"axis":{"values":[0,0.2,0.39,0.59,0.8,1],"tickCount":20,"labelExpr":"datum.value<0.05||datum.value>0.95?'K':datum.value<0.3?'Γ':datum.value<0.5?'M':datum.value<0.7?'L':'H'","labelOverlap":false,"title":"K-POINTS","titleFontSize":9,"grid":true,"gridDash":[2,2],"gridColor":"#aaa","gridWidth":0.5,"labelFontSize":5}},
"y":{"field":"e","type":"quantitative","scale":{"domain":[-3,3],"nice":false},"axis":{"values":[-3,-2,-1,0,1,2,3],"tickCount":20,"format":"d","labelOverlap":false,"labelFontSize":6.5,"title":"Energy (eV)"}},
"detail":{"field":"b","type":"nominal"}}},
{"data":{"name":"znseD"},"mark":{"type":"circle","size":16,"opacity":1},"encoding":{"x":{"field":"k","type":"quantitative"},"y":{"field":"e","type":"quantitative"},"fill":{"field":"s","type":"nominal","scale":{"domain":["b","r"],"range":["#4f82c6","#e3261f"]},"legend":null}}}
]}
]
}
